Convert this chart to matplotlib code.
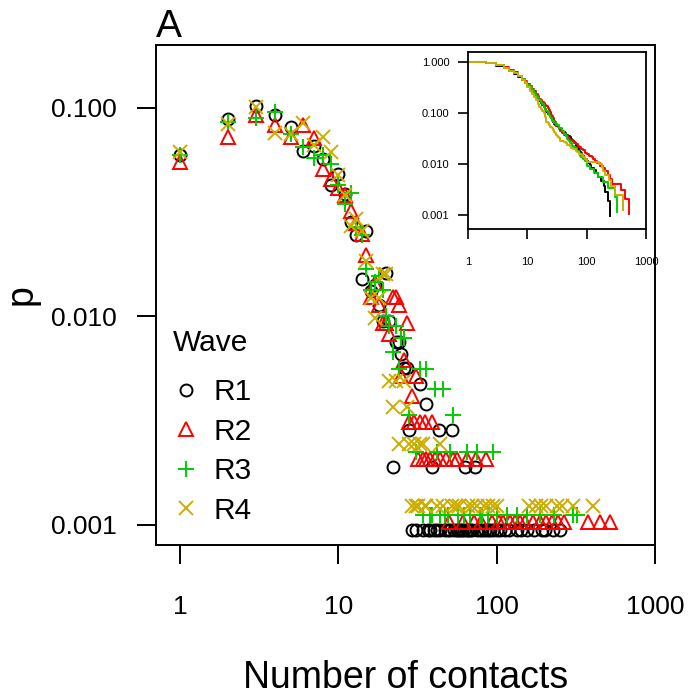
import numpy as np
import matplotlib.pyplot as plt
from matplotlib.lines import Line2D
from matplotlib.ticker import FixedLocator, NullLocator

plt.rcParams['font.family'] = ['Liberation Sans', 'DejaVu Sans']

# number of contacts (k) and number of respondents reporting it (n), per wave
r1_k = [1, 2, 3, 4, 5, 6, 7, 8, 9, 10, 11, 12, 13, 14, 15, 16, 17, 18, 19, 20,
        21, 22, 23, 24, 25, 26, 27, 28,
        29, 31, 33, 34, 36, 37, 38, 39, 40, 42,
        43, 44, 47, 49, 51, 52, 54, 56, 57, 59,
        60, 62, 63, 65, 66, 68, 70, 73, 75, 78,
        81, 84, 88, 91, 95, 100, 105, 113, 120, 134,
        142, 156, 172, 194, 202, 226, 251]
r1_n = [63, 93, 108, 98, 86, 66, 69, 60, 45, 51, 41, 30, 26, 16, 27, 14, 15, 12, 10, 17,
        10, 2, 8, 8, 7, 6, 6, 3,
        1, 1, 5, 1, 4, 1, 1, 2, 1, 1,
        3, 1, 1, 1, 1, 3, 1, 1, 1, 1,
        1, 1, 2, 1, 1, 1, 1, 2, 1, 1,
        1, 1, 1, 1, 1, 1, 1, 1, 1, 1,
        1, 1, 1, 1, 1, 1, 1]

r2_k = [1, 2, 3, 4, 5, 6, 7, 8, 9, 10, 11, 12, 13, 14, 15, 16, 17, 18, 19, 20,
        21, 22, 23, 24, 25, 26, 27,
        28, 29, 30, 31, 32, 33, 34, 35, 36, 38,
        39, 41, 44, 48, 50, 53, 56, 61, 65, 72,
        74, 80, 86, 94, 103, 110, 122, 130, 140, 152,
        170, 188, 205, 225, 245, 265, 380, 448, 518]
r2_n = [53, 70, 89, 80, 70, 80, 69, 49, 44, 40, 37, 31, 27, 24, 19, 12, 14, 11, 9, 9,
        8, 12, 12, 11, 5, 6, 9,
        3, 4, 3, 5, 2, 3, 2, 3, 2, 2,
        3, 2, 2, 2, 1, 2, 2, 1, 2, 1,
        2, 1, 2, 1, 1, 1, 1, 1, 1, 1,
        1, 1, 1, 1, 1, 1, 1, 1, 1]

r3_k = [1, 2, 3, 4, 5, 6, 7, 8, 9, 10, 11, 12, 13, 14, 15, 16, 17, 18, 19, 20,
        21, 22, 23, 24, 25, 26,
        28, 31, 33, 34, 36, 38, 39, 41, 42, 44,
        46, 47, 49, 51, 53, 57, 62, 65, 68, 75,
        78, 81, 88, 95, 100, 116, 135, 156, 188, 230,
        303, 323]
r3_n = [53, 76, 80, 85, 67, 58, 51, 53, 48, 38, 31, 35, 24, 22, 15, 12, 13, 14, 12, 9,
        8, 6, 8, 5, 7, 7,
        3, 2, 5, 1, 5, 1, 1, 4, 2, 1,
        4, 1, 1, 2, 3, 1, 1, 2, 1, 2,
        1, 1, 1, 2, 1, 1, 1, 1, 1, 1,
        1, 1]

r4_k = [1, 2, 3, 4, 5, 6, 7, 8, 9, 10, 11, 12, 13, 14, 15, 16, 17, 18, 19, 20,
        21, 22, 23, 24, 26, 27,
        28, 29, 30, 31, 32, 33, 34, 35, 36, 42,
        44, 46, 52, 55, 58, 66, 70, 75, 83, 88,
        95, 100, 160, 178, 190, 205, 240, 260, 303, 403]
r4_n = [50, 68, 82, 62, 61, 69, 54, 59, 50, 39, 31, 22, 24, 21, 15, 10, 8, 10, 13, 13,
        4, 3, 4, 2, 4, 3,
        2, 1, 2, 1, 1, 2, 2, 1, 1, 1,
        2, 1, 1, 1, 1, 1, 1, 1, 1, 1,
        1, 1, 1, 1, 1, 1, 1, 1, 1, 1]

waves = ['R1', 'R2', 'R3', 'R4']
wave_k = [r1_k, r2_k, r3_k, r4_k]
wave_n = [r1_n, r2_n, r3_n, r4_n]

colors = ['black', '#FF0000', '#00CD00', '#CDAD00']
markers = ['o', '^', '+', 'x']
msizes = [8.6, 10.2, 11.5, 9.5]

fig = plt.figure(figsize=(6.89, 6.97), dpi=100)
ax = fig.add_axes([156 / 689, 152 / 697, 499 / 689, 500 / 697])

handles = []
for name, k, n, c, m, s in zip(waves, wave_k, wave_n, colors, markers, msizes):
    k = np.array(k)
    n = np.array(n)
    p = n / n.sum()
    ax.plot(k, p, ls='none', marker=m, ms=s, mfc='none', mec=c, mew=1.4)
    handles.append(Line2D([], [], ls='none', marker=m, ms=s, mfc='none', mec=c, mew=1.4))

ax.set_xscale('log')
ax.set_yscale('log')
ax.set_xlim(10 ** -0.152, 1000)
ax.set_ylim(0.0008, 0.2)
ax.xaxis.set_major_locator(FixedLocator([1, 10, 100, 1000]))
ax.xaxis.set_minor_locator(NullLocator())
ax.set_xticklabels(['1', '10', '100', '1000'])
ax.yaxis.set_major_locator(FixedLocator([0.001, 0.01, 0.1]))
ax.yaxis.set_minor_locator(NullLocator())
ax.set_yticklabels(['0.001', '0.010', '0.100'])
ax.tick_params(axis='x', length=14, width=1.4, pad=22, labelsize=19)
ax.tick_params(axis='y', length=14, width=1.4, pad=14, labelsize=19)
for sp in ax.spines.values():
    sp.set_linewidth(1.4)

ax.set_xlabel('Number of contacts', fontsize=27)
ax.xaxis.set_label_coords(0.5, -0.231)
ax.set_ylabel('p', fontsize=27)
ax.yaxis.set_label_coords(-0.2325, 0.5)

ax.text(0.0, 1.016, 'A', transform=ax.transAxes, fontsize=28, ha='left', va='baseline')

ax.text(0.034, 0.404, 'Wave', transform=ax.transAxes, fontsize=21.5, ha='left', va='center')
ax.legend(handles, waves, loc='upper left', bbox_to_anchor=(0.034, 0.334), frameon=False,
          fontsize=21.5, borderpad=0, borderaxespad=0, handlelength=0.87,
          handletextpad=0.5, labelspacing=0.39)

# inset: complementary cumulative distribution
ins = fig.add_axes([468 / 689, (697 - 229) / 697, 178 / 689, 177 / 697])
for k, n, c in zip(wave_k, wave_n, colors):
    k = np.array(k)
    n = np.array(n)
    ccdf = n[::-1].cumsum()[::-1] / n.sum()
    ins.plot(k, ccdf, color=c, lw=1.4, drawstyle='steps-post')
ins.set_xscale('log')
ins.set_yscale('log')
ins.set_xlim(1, 1000)
ins.set_ylim(10 ** -3.2745, 10 ** 0.196)
ins.xaxis.set_major_locator(FixedLocator([1, 10, 100, 1000]))
ins.xaxis.set_minor_locator(NullLocator())
ins.set_xticklabels(['1', '10', '100', '1000'])
ins.yaxis.set_major_locator(FixedLocator([0.001, 0.01, 0.1, 1]))
ins.yaxis.set_minor_locator(NullLocator())
ins.set_yticklabels(['0.001', '0.010', '0.100', '1.000'])
ins.tick_params(axis='x', length=7, width=1.2, pad=13, labelsize=8)
ins.tick_params(axis='y', length=7, width=1.2, pad=6.5, labelsize=8)
for sp in ins.spines.values():
    sp.set_linewidth(1.3)

fig.savefig('out.png', dpi=100)
